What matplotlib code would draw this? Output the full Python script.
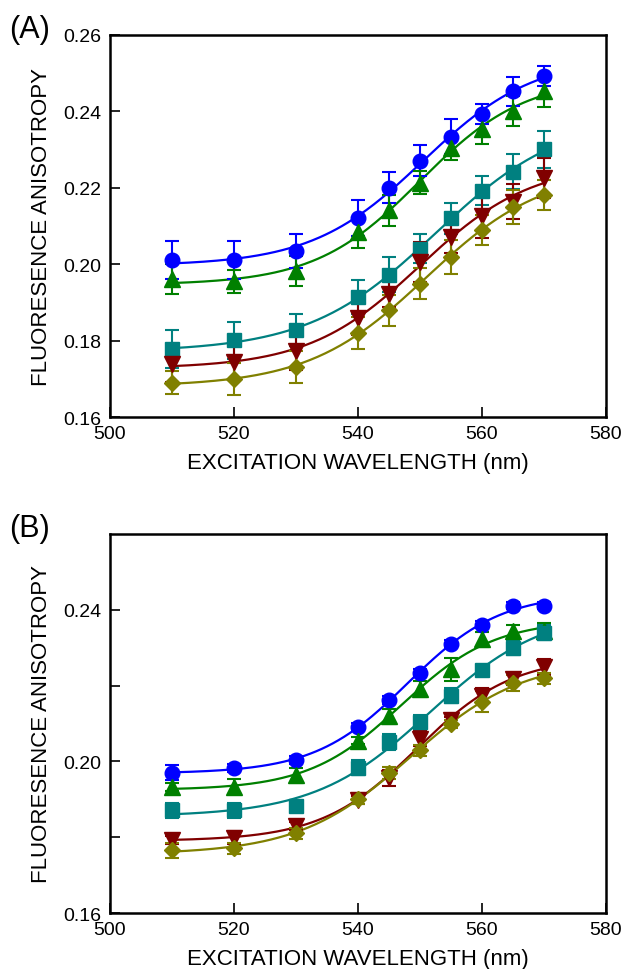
import numpy as np
import matplotlib.pyplot as plt

# excitation wavelengths (nm)
wl = [510, 520, 530, 540, 545, 550, 555, 560, 565, 570]

# panel A anisotropy values and errors
a_blue = [0.2012, 0.2011, 0.2034, 0.2122, 0.2200, 0.2271, 0.2334, 0.2392, 0.2452, 0.2493]
a_blue_err = [0.005, 0.005, 0.0045, 0.0047, 0.004, 0.004, 0.0046, 0.0026, 0.0038, 0.0026]
a_green = [0.1961, 0.1955, 0.1982, 0.2083, 0.2141, 0.2213, 0.2303, 0.2354, 0.2401, 0.2452]
a_green_err = [0.0039, 0.003, 0.004, 0.004, 0.004, 0.003, 0.003, 0.004, 0.004, 0.004]
a_teal = [0.1779, 0.1801, 0.1827, 0.1914, 0.1973, 0.2041, 0.2120, 0.2192, 0.2242, 0.2301]
a_teal_err = [0.005, 0.0048, 0.0042, 0.0045, 0.0045, 0.0038, 0.004, 0.0038, 0.0046, 0.0048]
a_red = [0.1740, 0.1744, 0.1772, 0.1858, 0.1923, 0.2006, 0.2072, 0.2126, 0.2163, 0.2226]
a_red_err = [0.0048, 0.0048, 0.005, 0.0042, 0.0035, 0.0052, 0.0044, 0.0057, 0.0046, 0.0053]
a_olive = [0.1690, 0.1700, 0.1731, 0.1821, 0.1879, 0.1949, 0.2019, 0.2089, 0.2150, 0.2181]
a_olive_err = [0.003, 0.0042, 0.0041, 0.0042, 0.004, 0.004, 0.0044, 0.004, 0.0044, 0.004]

# panel B anisotropy values and errors
b_blue = [0.1970, 0.1983, 0.2003, 0.2092, 0.2162, 0.2233, 0.2311, 0.2361, 0.2411, 0.2411]
b_blue_err = [0.002, 0.001, 0.001, 0.001, 0.001, 0.001, 0.001, 0.001, 0.001, 0.001]
b_green = [0.1933, 0.1933, 0.1963, 0.2055, 0.2119, 0.2191, 0.2243, 0.2322, 0.2344, 0.2344]
b_green_err = [0.001, 0.002, 0.002, 0.001, 0.002, 0.002, 0.003, 0.002, 0.0017, 0.002]
b_teal = [0.1871, 0.1871, 0.1882, 0.1983, 0.2051, 0.2103, 0.2173, 0.2241, 0.2300, 0.2340]
b_teal_err = [0.002, 0.002, 0.001, 0.002, 0.002, 0.002, 0.002, 0.001, 0.002, 0.002]
b_red = [0.1793, 0.1799, 0.1830, 0.1898, 0.1956, 0.2060, 0.2108, 0.2173, 0.2217, 0.2249]
b_red_err = [0.001, 0.0018, 0.001, 0.001, 0.002, 0.002, 0.001, 0.002, 0.0015, 0.002]
b_olive = [0.1766, 0.1771, 0.1810, 0.1902, 0.1969, 0.2029, 0.2099, 0.2158, 0.2207, 0.2219]
b_olive_err = [0.002, 0.0015, 0.0015, 0.0015, 0.0015, 0.0015, 0.001, 0.0027, 0.002, 0.0015]

colors = ['#0000ff', '#008000', '#008080', '#800000', '#808000']
markers = ['o', '^', 's', 'v', 'D']
msizes = [10.5, 11, 9.5, 11, 8.5]


def sigmoid_fit(x, y, xs):
    # Boltzmann fit: grid over centre/width, linear least squares for plateaus
    best = None
    for x0 in np.arange(530, 600, 0.5):
        for dx in np.arange(3, 25, 0.25):
            s = 1 / (1 + np.exp((x - x0) / dx))
            M = np.column_stack([s, 1 - s])
            coef, *_ = np.linalg.lstsq(M, y, rcond=None)
            r = np.sum((M @ coef - y) ** 2)
            if best is None or r < best[0]:
                best = (r, x0, dx, coef)
    _, x0, dx, coef = best
    s = 1 / (1 + np.exp((xs - x0) / dx))
    return coef[0] * s + coef[1] * (1 - s)


plt.rcParams.update({
    'font.family': ['Liberation Sans', 'DejaVu Sans'],
    'font.size': 14,
    'axes.linewidth': 1.8,
    'xtick.direction': 'in',
    'ytick.direction': 'in',
    'xtick.major.size': 7,
    'ytick.major.size': 7,
    'xtick.minor.size': 7,
    'ytick.minor.size': 7,
    'xtick.major.width': 1.2,
    'ytick.major.width': 1.2,
    'ytick.minor.width': 1.2,
    'xtick.major.pad': 6,
    'ytick.major.pad': 6,
})

fig = plt.figure(figsize=(6.23, 9.7), dpi=100)
ax_a = fig.add_axes([0.1766, 0.569, 0.796, 0.394])
ax_b = fig.add_axes([0.1766, 0.0577, 0.796, 0.3908])

panels = [
    (ax_a, [a_blue, a_green, a_teal, a_red, a_olive],
     [a_blue_err, a_green_err, a_teal_err, a_red_err, a_olive_err], '(A)'),
    (ax_b, [b_blue, b_green, b_teal, b_red, b_olive],
     [b_blue_err, b_green_err, b_teal_err, b_red_err, b_olive_err], '(B)'),
]

x = np.array(wl)
xs = np.linspace(510, 570, 200)
for ax, series, errs, tag in panels:
    for y, e, c, m, ms in zip(series, errs, colors, markers, msizes):
        ax.plot(xs, sigmoid_fit(x, np.array(y), xs), color=c, lw=1.6, zorder=2)
        ax.errorbar(x, y, yerr=e, fmt=m, color=c, ms=ms, capsize=5,
                    elinewidth=1.5, capthick=1.5, zorder=3)
    ax.set_xlim(500, 580)
    ax.set_ylim(0.16, 0.26)
    ax.set_xticks([500, 520, 540, 560, 580])
    ax.tick_params(top=False, right=False)
    ax.set_xlabel('EXCITATION WAVELENGTH (nm)', fontsize=16, labelpad=7)
    ax.set_ylabel('FLUORESENCE ANISOTROPY', fontsize=16, labelpad=8)
    fig.text(0.047, ax.get_position().y1 + 0.0065, tag, fontsize=22,
             ha='center', va='center')

ax_a.set_yticks([0.16, 0.18, 0.20, 0.22, 0.24, 0.26])
ax_a.set_yticklabels(['0.16', '0.18', '0.20', '0.22', '0.24', '0.26'])
ax_b.set_yticks([0.16, 0.20, 0.24])
ax_b.set_yticklabels(['0.16', '0.20', '0.24'])
ax_b.set_yticks([0.18, 0.22], minor=True)

fig.savefig('out.png', dpi=100)
